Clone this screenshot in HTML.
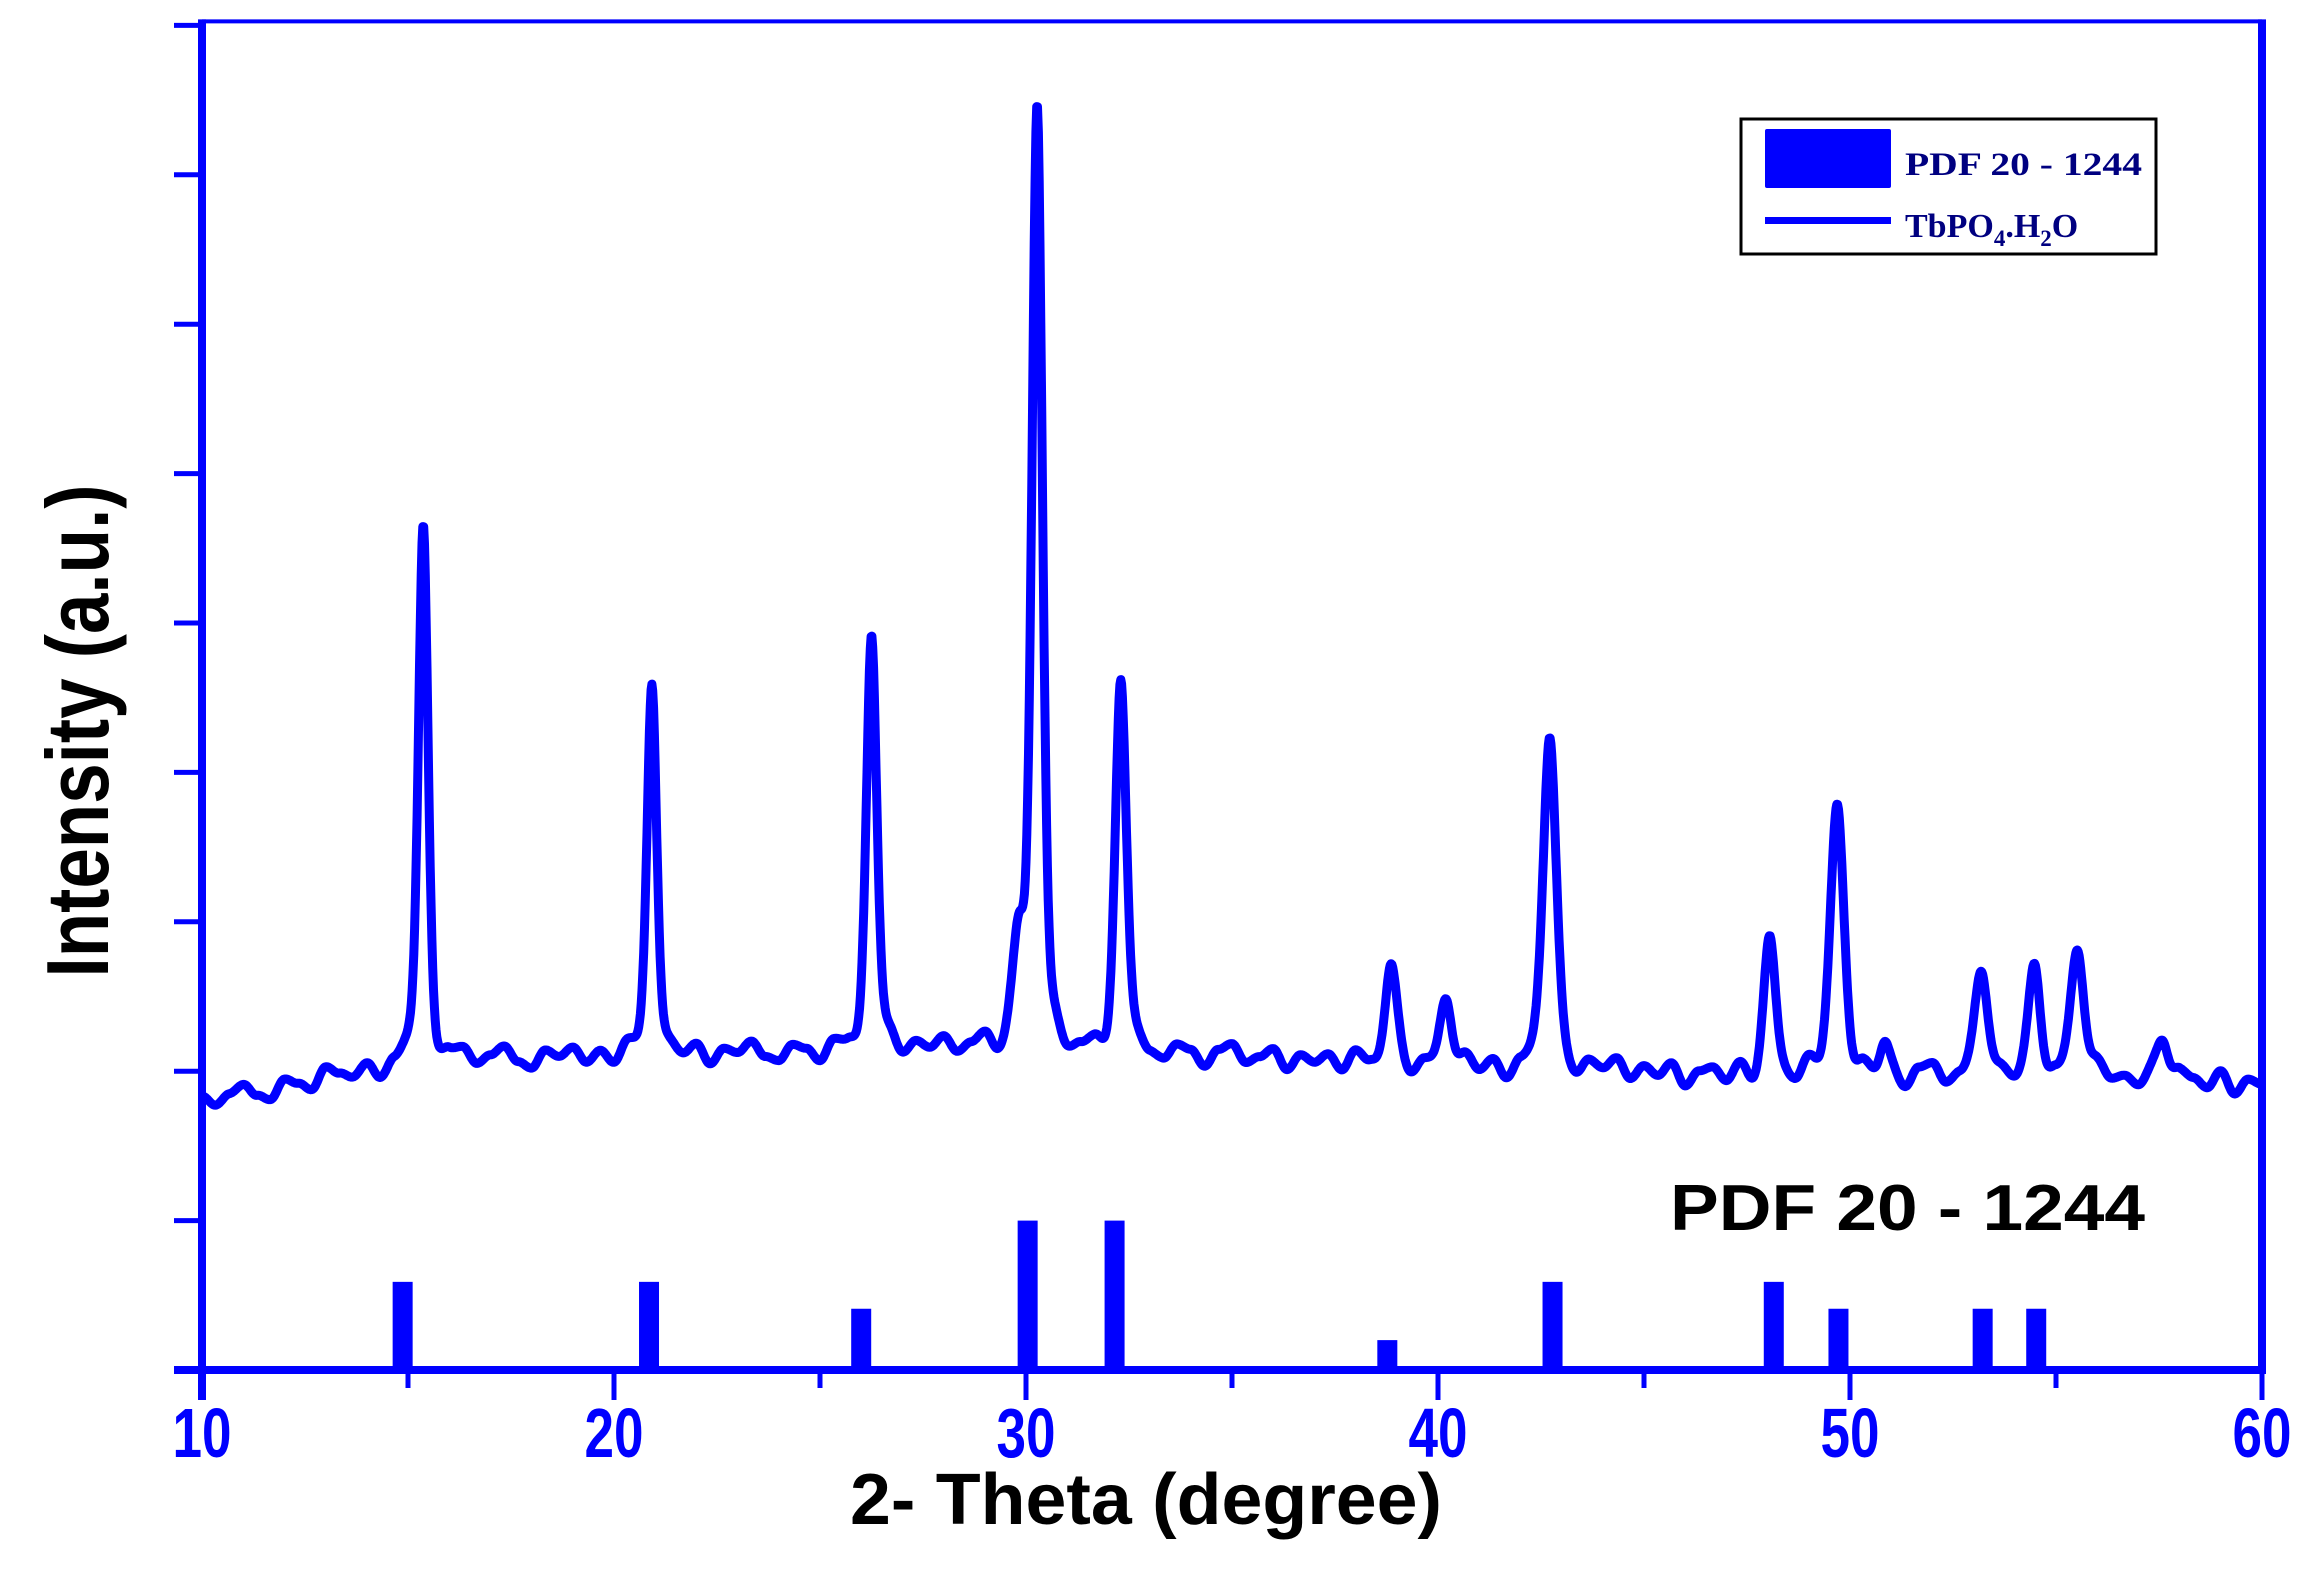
<!DOCTYPE html>
<html><head><meta charset="utf-8"><style>
html,body{margin:0;padding:0;background:#fff;}
svg{display:block;}
</style></head><body>
<svg id="chart" width="2309" height="1570" viewBox="0 0 2309 1570" xmlns="http://www.w3.org/2000/svg">
<rect x="0" y="0" width="2309" height="1570" fill="#fff"/>
<g id="plot"></g>
<g id="axes"></g>
<text x="0" y="0" transform="translate(108,731) rotate(-90)" text-anchor="middle" font-family="Liberation Sans, sans-serif" font-weight="bold" font-size="88" textLength="493" lengthAdjust="spacingAndGlyphs">Intensity (a.u.)</text>
<text x="1146" y="1524" text-anchor="middle" font-family="Liberation Sans, sans-serif" font-weight="bold" font-size="72" textLength="592" lengthAdjust="spacingAndGlyphs">2- Theta (degree)</text>
<text x="1670" y="1230" font-family="Liberation Sans, sans-serif" font-weight="bold" font-size="65" textLength="475" lengthAdjust="spacingAndGlyphs">PDF 20 - 1244</text>
<g>
<rect x="1741" y="119" width="415" height="135" fill="#fff" stroke="#000" stroke-width="3"/>
<rect x="1765" y="129" width="126" height="59" rx="2" fill="#0000ff"/>
<text x="1905" y="175" font-family="Liberation Serif, serif" font-weight="bold" font-size="33" fill="#000080" textLength="237" lengthAdjust="spacingAndGlyphs">PDF 20 - 1244</text>
<rect x="1765" y="217" width="126" height="7" fill="#0000ff"/>
<text x="1905" y="237" font-family="Liberation Serif, serif" font-weight="bold" font-size="34" fill="#000080">TbPO<tspan font-size="23" dy="9">4</tspan><tspan dy="-9">.H</tspan><tspan font-size="23" dy="9">2</tspan><tspan dy="-9">O</tspan></text>
</g>
</svg>
<script>
// ---- data ----
const peakPos    = [15.37,20.92,26.25,29.83,30.27,32.30,38.85,40.20,42.71,48.05,49.69,50.84,53.20,54.49,55.53,57.60];
const peakHeight = [3.62, 2.52, 2.78, 0.70, 6.25, 2.45, 0.65, 0.48, 2.26, 0.90, 1.80, 0.20, 0.72, 0.74, 0.86, 0.33];
const peakWidth  = [0.28, 0.28, 0.30, 0.36, 0.30, 0.32, 0.34, 0.34, 0.38, 0.34, 0.40, 0.28, 0.38, 0.34, 0.38, 0.34];
const baseX = [10, 12, 14, 16, 20, 25, 28, 34, 37, 40, 45, 47, 52, 56, 60];
const baseY = [1.80,1.90,2.00,2.08,2.10,2.13,2.16,2.12,2.07,2.03,2.00,1.97,1.97,1.97,1.91];
const noise = [0.02,-0.03,0.01,0.04,-0.02,-0.05,0.03,0.00,-0.04,0.05,0.01,-0.02,0.03,-0.05,0.02,0.06,-0.01,-0.04,0.02,0.04,
 -0.03,0.01,0.05,-0.02,-0.05,0.03,0.00,0.04,-0.03,0.02,-0.04,0.05,0.01,-0.03,0.03,-0.01,0.04,-0.05,0.02,0.00,
 0.05,-0.02,-0.04,0.03,0.01,-0.05,0.04,0.02,-0.03,0.00,0.05,-0.04,0.02,-0.01,0.04,-0.03,0.01,0.05,-0.05,0.02,
 -0.02,0.03,0.06,-0.04,0.00,0.03,-0.05,0.02,0.04,-0.02,-0.04,0.03,0.01,-0.06,0.02,0.05,-0.03,0.00,0.04,-0.05,
 0.02,-0.01,0.03,-0.04,0.05,0.00,-0.03,0.04,-0.05,0.02,0.01,-0.04,0.05,-0.02,0.03,-0.06,0.02,0.04,-0.03,0.01,
 -0.05,0.03,0.00,0.05,-0.04,0.02,-0.02,0.04,-0.06,0.01,0.03,-0.03,0.05,-0.05,0.02,0.00,-0.04,0.06,-0.02,0.01,
 -0.05,0.04,-0.01,0.02,-0.06,0.03,0.05,-0.04,0.00,0.03,-0.05,0.02,-0.03,0.04,-0.06,0.01,0.03,-0.05,0.05,-0.02,
 0.00,-0.04,0.03,-0.06,0.04,0.01,-0.03,0.05,-0.05,0.02,0.00];
const stickPos    = [14.87,20.85,26.00,30.04,32.15,38.77,42.78,48.15,49.72,53.22,54.52];
const stickHeight = [0.59, 0.59, 0.41, 1.00, 1.00, 0.20, 0.59, 0.59, 0.41, 0.41, 0.41];
const xTicks = [10,20,30,40,50,60];
const xMinorTicks = [15,25,35,45,55];
const yTicks = [0,1,2,3,4,5,6,7,8,9];

// ---- scales ----
const X0=202, X1=2262, Y0=1370, YU=149.4;
const sx = v => X0 + (v-10)*(X1-X0)/50;
const sy = v => Y0 - v*YU;
const NS = "http://www.w3.org/2000/svg";
const plotG = document.getElementById('plot');
const axesG = document.getElementById('axes');
function mk(tag, attrs, parent){ const e=document.createElementNS(NS,tag); for(const k in attrs) e.setAttribute(k,attrs[k]); parent.appendChild(e); return e; }

function baseline(x){
  for(let i=0;i<baseX.length-1;i++){ if(x<=baseX[i+1]){ const t=(x-baseX[i])/(baseX[i+1]-baseX[i]); return baseY[i]+t*(baseY[i+1]-baseY[i]); } }
  return baseY[baseY.length-1];
}
function noiseAt(x){
  const step = 50/(noise.length-1);
  const f=(x-10)/step, i=Math.floor(f), t=f-i;
  const a=noise[Math.min(i,noise.length-1)], b=noise[Math.min(i+1,noise.length-1)];
  const s=(1-Math.cos(Math.PI*t))/2; return 1.5*(a+(b-a)*s);
}
function intensity(x){
  let y = baseline(x) + noiseAt(x);
  for(let i=0;i<peakPos.length;i++){
    const d=(x-peakPos[i])/(peakWidth[i]/2);
    y += peakHeight[i]*(0.3/(1+d*d) + 0.7*Math.exp(-Math.LN2*d*d));
  }
  return y;
}

// sticks
for(let i=0;i<stickPos.length;i++){
  const r = mk('rect',{x:sx(stickPos[i])-10, y:sy(stickHeight[i]), width:20, height:Y0-sy(stickHeight[i]), fill:'#0000ff'}, plotG);
  
  
}
// pattern line
let pathD='';
for(let x=10; x<=60.0001; x+=0.02){ pathD += (pathD?'L':'M') + sx(x).toFixed(1)+','+sy(intensity(x)).toFixed(1); }
const patternLine = mk('path',{d:pathD, fill:'none', stroke:'#0000ff', 'stroke-width':9, 'stroke-linejoin':'round'}, plotG);



// axes frame
const axTop = mk('line',{x1:X0, y1:sy(9)-4, x2:X1, y2:sy(9)-4, stroke:'#0000ff','stroke-width':4}, axesG);


const axRight = mk('line',{x1:X1, y1:sy(9)-6, x2:X1, y2:Y0+4, stroke:'#0000ff','stroke-width':8}, axesG);


const axLeft = mk('line',{x1:X0, y1:sy(9)-6, x2:X0, y2:Y0+30, stroke:'#0000ff','stroke-width':8}, axesG);


const axBottom = mk('line',{x1:174, y1:Y0, x2:X1+4, y2:Y0, stroke:'#0000ff','stroke-width':8}, axesG);



for(const t of yTicks){
  const l = mk('line',{x1:174, y1:sy(t), x2:X0, y2:sy(t), stroke:'#0000ff','stroke-width':5}, axesG);
  
  
}
for(const t of xTicks){
  const l = mk('line',{x1:sx(t), y1:Y0, x2:sx(t), y2:Y0+30, stroke:'#0000ff','stroke-width':5}, axesG);
  
  
  const tx = mk('text',{x:sx(t), y:1457, 'text-anchor':'middle', 'font-family':'Liberation Sans, sans-serif', 'font-weight':'bold', 'font-size':70, fill:'#0000ff', textLength:59, lengthAdjust:'spacingAndGlyphs'}, axesG);
  tx.textContent = t;
  
  
}
for(const t of xMinorTicks){
  const l = mk('line',{x1:sx(t), y1:Y0, x2:sx(t), y2:Y0+18, stroke:'#0000ff','stroke-width':5}, axesG);
  
  
}
</script>
</body></html>
